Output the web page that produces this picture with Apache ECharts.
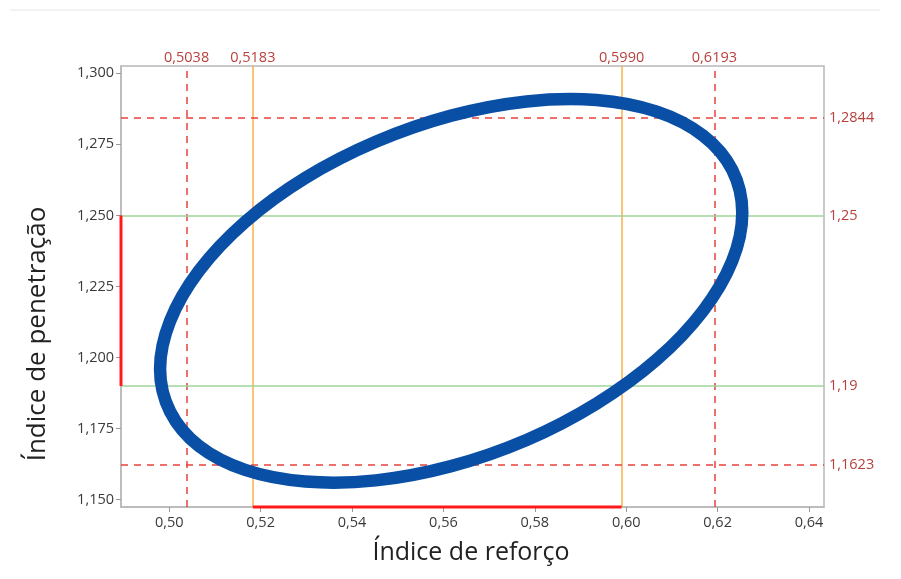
<!DOCTYPE html>
<html>
<head>
<meta charset="utf-8">
<script src="https://cdn.jsdelivr.net/npm/echarts@6/dist/echarts.min.js"></script>
<style>
html,body{margin:0;padding:0;background:#fff;}
#chart{width:901px;height:579px;}
</style>
</head>
<body>
<div id="chart"></div>
<script>
// Ellipse (confidence region) outline (closed loop)
const ellipseX = [0.6254,0.6232,0.6168,0.6067,0.5935,0.5782,0.5617,0.5452,0.5298,0.5166,0.5065,0.5002,0.4980,0.5002,0.5065,0.5166,0.5298,0.5452,0.5617,0.5782,0.5935,0.6067,0.6168,0.6232];
const ellipseY = [1.2509,1.2660,1.2781,1.2865,1.2906,1.2901,1.2851,1.2759,1.2632,1.2477,1.2305,1.2129,1.1960,1.1810,1.1689,1.1605,1.1564,1.1568,1.1618,1.1710,1.1838,1.1993,1.2164,1.2340];

// Reference lines
const vDashed = [0.5038, 0.6193];
const vDashedLabels = ['0,5038', '0,6193'];
const vOrange = [0.5183, 0.5990];
const vOrangeLabels = ['0,5183', '0,5990'];
const hDashed = [1.2844, 1.1623];
const hDashedLabels = ['1,2844', '1,1623'];
const hGreen = [1.25, 1.19];
const hGreenLabels = ['1,25', '1,19'];

// Axis ticks
const xTicks = [0.50, 0.52, 0.54, 0.56, 0.58, 0.60, 0.62, 0.64];
const yTicks = [1.150, 1.175, 1.200, 1.225, 1.250, 1.275, 1.300];
const xRange = [0.48945, 0.64328];
const yRange = [1.14743, 1.30257];

const RED = '#e8413c';
const LABEL_RED = '#b8403d';
const ORANGE = '#f8b04a';
const GREEN = '#9ed49a';

const ellipseData = ellipseX.map((x, i) => [x, ellipseY[i]]);

const labelStyle = {show: true, color: LABEL_RED, fontSize: 14.5, fontFamily: 'Open Sans'};

const markData = [];
vDashed.forEach((v, i) => markData.push({xAxis: v, lineStyle: {color: RED, type: [7, 6], width: 1.5},
  label: Object.assign({}, labelStyle, {position: 'end', formatter: vDashedLabels[i], distance: 1})}));
vOrange.forEach((v, i) => markData.push({xAxis: v, lineStyle: {color: ORANGE, type: 'solid', width: 1.5},
  label: Object.assign({}, labelStyle, {position: 'end', formatter: vOrangeLabels[i], distance: 1})}));
hDashed.forEach((v, i) => markData.push({yAxis: v, lineStyle: {color: RED, type: [7, 6], width: 1.5},
  label: Object.assign({}, labelStyle, {position: 'end', formatter: hDashedLabels[i], distance: 5})}));
hGreen.forEach((v, i) => markData.push({yAxis: v, lineStyle: {color: GREEN, type: 'solid', width: 1.5},
  label: Object.assign({}, labelStyle, {position: 'end', formatter: hGreenLabels[i], distance: 5})}));

const chart = echarts.init(document.getElementById('chart'));
chart.setOption({
  animation: false,
  backgroundColor: '#fff',
  grid: {left: 121, top: 66, right: 77, bottom: 72, show: true, borderColor: '#b8b8b8', borderWidth: 1.5},
  xAxis: {
    type: 'value', min: xRange[0], max: xRange[1],
    axisLine: {show: true, lineStyle: {color: '#b8b8b8', width: 1.5}},
    axisTick: {show: true, customValues: xTicks, length: 5, lineStyle: {color: '#999'}},
    axisLabel: {customValues: xTicks, color: '#3a3a3a', fontSize: 14.5, fontFamily: 'Open Sans', margin: 8,
      formatter: v => v.toFixed(2).replace('.', ',')},
    splitLine: {show: false}
  },
  yAxis: {
    type: 'value', min: yRange[0], max: yRange[1],
    axisLine: {show: true, lineStyle: {color: '#b8b8b8', width: 1.5}},
    axisTick: {show: true, customValues: yTicks, length: 5, lineStyle: {color: '#999'}},
    axisLabel: {customValues: yTicks, color: '#3a3a3a', fontSize: 14.5, fontFamily: 'Open Sans', margin: 7,
      formatter: v => v.toFixed(3).replace('.', ',')},
    splitLine: {show: false}
  },
  graphic: [
    {type: 'line', shape: {x1: 10, y1: 10, x2: 880, y2: 10}, style: {stroke: '#e6e6e6', lineWidth: 1}},
    {type: 'text', x: 471, y: 553, style: {text: 'Índice de reforço', fill: '#222', fontSize: 25, fontFamily: 'Open Sans', align: 'center', verticalAlign: 'middle'}},
    {type: 'text', x: 38, y: 334, rotation: Math.PI / 2, style: {text: 'Índice de penetração', fill: '#222', fontSize: 26, fontFamily: 'Open Sans', align: 'center', verticalAlign: 'middle'}}
  ],
  series: [
    {
      type: 'custom', data: ellipseData, encode: {x: 0, y: 1}, z: 3,
      renderItem: function (params, api) {
        if (params.dataIndex !== 0) return null;
        const pts = ellipseData.map(p => api.coord(p));
        return {
          type: 'polygon',
          shape: {points: pts, smooth: 0.35},
          style: {fill: 'none', stroke: '#0a4fa6', lineWidth: 12.5, lineJoin: 'round'}
        };
      }
    },
    {
      type: 'line', data: [[vOrange[0], yRange[0]], [vOrange[1], yRange[0]]], showSymbol: false, symbol: 'none',
      lineStyle: {color: '#ff1a1a', width: 3}, clip: false, z: 4,
      markLine: {silent: true, precision: 4, symbol: ['none', 'none'], data: markData, z: 2}
    },
    {
      type: 'line', data: [[xRange[0], hGreen[1]], [xRange[0], hGreen[0]]], showSymbol: false, symbol: 'none',
      lineStyle: {color: '#ff1a1a', width: 3}, clip: false, z: 4
    }
  ]
});
</script>
</body>
</html>
